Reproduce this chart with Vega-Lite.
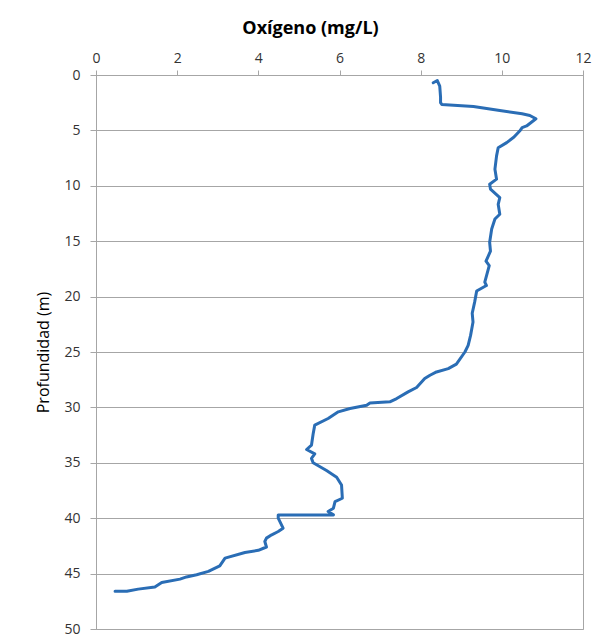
{
  "$schema": "https://vega.github.io/schema/vega-lite/v6.json",
  "autosize": "none",
  "padding": {"left": 96, "top": 75, "right": 19, "bottom": 12},
  "width": 487,
  "height": 554,
  "background": "white",
  "config": {
    "font": "Open Sans",
    "view": {"stroke": "#a6a6a6", "strokeWidth": 1}
  },
  "data": {
    "values": [
      {"n": 1, "o": 8.31, "d": 0.7},
      {"n": 2, "o": 8.41, "d": 0.5},
      {"n": 3, "o": 8.47, "d": 1.0},
      {"n": 4, "o": 8.49, "d": 2.0},
      {"n": 5, "o": 8.49, "d": 2.5},
      {"n": 6, "o": 8.52, "d": 2.66},
      {"n": 7, "o": 9.3, "d": 2.85},
      {"n": 8, "o": 9.95, "d": 3.2},
      {"n": 9, "o": 10.5, "d": 3.5},
      {"n": 10, "o": 10.69, "d": 3.65},
      {"n": 11, "o": 10.84, "d": 3.95},
      {"n": 12, "o": 10.61, "d": 4.6},
      {"n": 13, "o": 10.5, "d": 4.75},
      {"n": 14, "o": 10.44, "d": 5.06},
      {"n": 15, "o": 10.3, "d": 5.6},
      {"n": 16, "o": 10.12, "d": 6.1},
      {"n": 17, "o": 9.91, "d": 6.56},
      {"n": 18, "o": 9.87, "d": 7.3},
      {"n": 19, "o": 9.83, "d": 8.5},
      {"n": 20, "o": 9.87, "d": 9.4},
      {"n": 21, "o": 9.7, "d": 9.86},
      {"n": 22, "o": 9.72, "d": 10.3},
      {"n": 23, "o": 9.95, "d": 11.06},
      {"n": 24, "o": 9.91, "d": 11.67},
      {"n": 25, "o": 9.95, "d": 12.57},
      {"n": 26, "o": 9.83, "d": 13.0},
      {"n": 27, "o": 9.75, "d": 13.9},
      {"n": 28, "o": 9.7, "d": 15.1},
      {"n": 29, "o": 9.72, "d": 15.9},
      {"n": 30, "o": 9.61, "d": 16.8},
      {"n": 31, "o": 9.69, "d": 17.2},
      {"n": 32, "o": 9.58, "d": 18.7},
      {"n": 33, "o": 9.62, "d": 19.0},
      {"n": 34, "o": 9.38, "d": 19.5},
      {"n": 35, "o": 9.33, "d": 20.5},
      {"n": 36, "o": 9.27, "d": 21.5},
      {"n": 37, "o": 9.29, "d": 22.3},
      {"n": 38, "o": 9.23, "d": 23.5},
      {"n": 39, "o": 9.17, "d": 24.4},
      {"n": 40, "o": 9.09, "d": 25.0},
      {"n": 41, "o": 8.88, "d": 26.1},
      {"n": 42, "o": 8.68, "d": 26.5},
      {"n": 43, "o": 8.39, "d": 26.8},
      {"n": 44, "o": 8.23, "d": 27.1},
      {"n": 45, "o": 8.1, "d": 27.4},
      {"n": 46, "o": 7.9, "d": 28.2},
      {"n": 47, "o": 7.69, "d": 28.6},
      {"n": 48, "o": 7.41, "d": 29.2},
      {"n": 49, "o": 7.24, "d": 29.5},
      {"n": 50, "o": 6.75, "d": 29.6},
      {"n": 51, "o": 6.67, "d": 29.8},
      {"n": 52, "o": 6.26, "d": 30.1},
      {"n": 53, "o": 5.97, "d": 30.4},
      {"n": 54, "o": 5.72, "d": 31.0},
      {"n": 55, "o": 5.39, "d": 31.6},
      {"n": 56, "o": 5.35, "d": 32.4},
      {"n": 57, "o": 5.31, "d": 33.4},
      {"n": 58, "o": 5.19, "d": 33.8},
      {"n": 59, "o": 5.39, "d": 34.2},
      {"n": 60, "o": 5.31, "d": 34.6},
      {"n": 61, "o": 5.35, "d": 35.0},
      {"n": 62, "o": 5.68, "d": 35.7},
      {"n": 63, "o": 5.93, "d": 36.3},
      {"n": 64, "o": 6.05, "d": 37.0},
      {"n": 65, "o": 6.07, "d": 38.2},
      {"n": 66, "o": 5.89, "d": 38.5},
      {"n": 67, "o": 5.85, "d": 39.1},
      {"n": 68, "o": 5.72, "d": 39.4},
      {"n": 69, "o": 5.85, "d": 39.7},
      {"n": 70, "o": 4.49, "d": 39.7},
      {"n": 71, "o": 4.49, "d": 40.0},
      {"n": 72, "o": 4.61, "d": 40.9},
      {"n": 73, "o": 4.49, "d": 41.2},
      {"n": 74, "o": 4.33, "d": 41.5},
      {"n": 75, "o": 4.2, "d": 41.8},
      {"n": 76, "o": 4.16, "d": 42.1},
      {"n": 77, "o": 4.2, "d": 42.6},
      {"n": 78, "o": 4.0, "d": 42.9},
      {"n": 79, "o": 3.67, "d": 43.1},
      {"n": 80, "o": 3.18, "d": 43.6},
      {"n": 81, "o": 3.05, "d": 44.3},
      {"n": 82, "o": 2.77, "d": 44.8},
      {"n": 83, "o": 2.48, "d": 45.1},
      {"n": 84, "o": 2.23, "d": 45.3},
      {"n": 85, "o": 2.07, "d": 45.5},
      {"n": 86, "o": 1.62, "d": 45.8},
      {"n": 87, "o": 1.45, "d": 46.2},
      {"n": 88, "o": 1.04, "d": 46.4},
      {"n": 89, "o": 0.76, "d": 46.6},
      {"n": 90, "o": 0.47, "d": 46.6}
    ]
  },
  "mark": {"type": "line", "color": "#2a6db5", "strokeWidth": 3, "strokeJoin": "round", "strokeCap": "round"},
  "encoding": {
    "x": {
      "field": "o",
      "type": "quantitative",
      "scale": {"domain": [0, 12], "nice": false, "zero": false},
      "axis": {
        "orient": "top",
        "title": "Oxígeno (mg/L)",
        "titleFontSize": 18,
        "titleFontWeight": "bold",
        "titleColor": "#000000",
        "titleX": 214,
        "titleY": -47,
        "titleAlign": "center",
        "titleBaseline": "middle",
        "values": [0, 2, 4, 6, 8, 10, 12],
        "grid": false,
        "labelFlush": false,
        "domainColor": "#a6a6a6",
        "tickColor": "#a6a6a6",
        "tickSize": 5,
        "labelPadding": 5,
        "labelFontSize": 14,
        "labelColor": "#333333"
      }
    },
    "y": {
      "field": "d",
      "type": "quantitative",
      "scale": {"domain": [0, 50], "reverse": true, "nice": false, "zero": false},
      "axis": {
        "title": "Profundidad (m)",
        "titleFontSize": 16,
        "titleFontWeight": "normal",
        "titleColor": "#000000",
        "titleX": -53,
        "titleY": 277,
        "titleAlign": "center",
        "titleBaseline": "middle",
        "titleAngle": 270,
        "values": [0, 5, 10, 15, 20, 25, 30, 35, 40, 45, 50],
        "grid": true,
        "labelFlush": false,
        "gridColor": "#a6a6a6",
        "domainColor": "#a6a6a6",
        "tickColor": "#a6a6a6",
        "tickSize": 6,
        "labelPadding": 10,
        "labelFontSize": 14,
        "labelColor": "#333333"
      }
    },
    "order": {"field": "n", "type": "quantitative"}
  }
}
